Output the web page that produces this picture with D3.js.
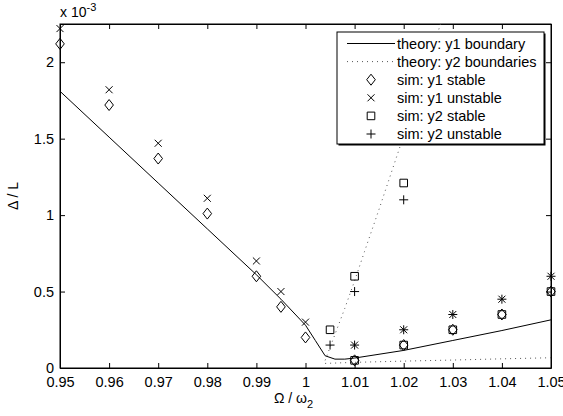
<!DOCTYPE html>
<meta charset="utf-8">
<script src="https://d3js.org/d3.v7.min.js"></script>
<style>
  body { margin: 0; background: #fff; }
  text { font-family: 'Liberation Sans', Arial, sans-serif; fill: #000; }
  .tick text { font-size: 14.5px; }
  text.legend { font-size: 14.5px; }
</style>
<div id="my_dataviz"></div>
<script>

// ---- data (values of Delta/L in units of 1e-3) ----
var xTicks = [0.95, 0.96, 0.97, 0.98, 0.99, 1.0, 1.01, 1.02, 1.03, 1.04, 1.05];
var yTicks = [0, 0.5, 1, 1.5, 2];

// theory: y1 boundary (solid)
var thY1x = [0.95, 0.96, 0.97, 0.98, 0.99, 0.995, 1.0, 1.002, 1.004, 1.006, 1.008, 1.01, 1.02, 1.03, 1.04, 1.05];
var thY1y = [1.81, 1.51, 1.21, 0.91, 0.61, 0.45, 0.28, 0.18, 0.08, 0.058, 0.058, 0.065, 0.115, 0.18, 0.245, 0.315];

// theory: y2 boundaries (dotted), two branches
var thY2lowX = [1.004, 1.01, 1.02, 1.03, 1.04, 1.05];
var thY2lowY = [0.03, 0.037, 0.045, 0.052, 0.06, 0.067];
var thY2upX = [1.004, 1.006, 1.008, 1.01, 1.012, 1.015, 1.02, 1.025, 1.03];
var thY2upY = [0.05, 0.22, 0.39, 0.57, 0.76, 1.04, 1.52, 2.0, 2.5];

// simulations
var simY1x = [0.95, 0.96, 0.97, 0.98, 0.99, 0.995, 1.0, 1.01, 1.02, 1.03, 1.04, 1.05];
var y1Stable = [2.12, 1.72, 1.37, 1.01, 0.60, 0.40, 0.20, 0.05, 0.15, 0.25, 0.35, 0.50];
var y1Unstable = [2.22, 1.82, 1.47, 1.11, 0.70, 0.50, 0.30, 0.15, 0.25, 0.35, 0.45, 0.60];

var simY2x = [1.005, 1.01, 1.02, 1.01, 1.02, 1.03, 1.04, 1.05];
var y2Stable = [0.25, 0.60, 1.21, 0.05, 0.15, 0.25, 0.35, 0.50];
var y2Unstable = [0.15, 0.50, 1.10, 0.15, 0.25, 0.35, 0.45, 0.60];

var legendLabels = ["theory: y1 boundary", "theory: y2 boundaries", "sim: y1 stable",
                    "sim: y1 unstable", "sim: y2 stable", "sim: y2 unstable"];

// ---- layout ----
var margin = {top: 24, right: 12, bottom: 48, left: 60},
    width = 563 - margin.left - margin.right,
    height = 416 - margin.top - margin.bottom;

var svg = d3.select("#my_dataviz")
  .append("svg")
    .attr("width", 563)
    .attr("height", 416)
  .append("g")
    .attr("transform", "translate(" + margin.left + "," + margin.top + ")");

var x = d3.scaleLinear().domain([0.95, 1.05]).range([0, width]);
var y = d3.scaleLinear().domain([0, 2.25]).range([height, 0]);

svg.append("clipPath").attr("id", "clip")
  .append("rect").attr("width", width).attr("height", height);

// axes (MATLAB style: ticks inside, box on all sides)
var fmtX = function(d) { return d3.format("")(+d.toFixed(2)); };
svg.append("g")
  .attr("transform", "translate(0," + height + ")")
  .call(d3.axisBottom(x).tickValues(xTicks).tickSizeInner(-5).tickSizeOuter(0).tickPadding(9).tickFormat(fmtX));
svg.append("g")
  .call(d3.axisTop(x).tickValues(xTicks).tickSizeInner(-5).tickSizeOuter(0).tickFormat(""));
svg.append("g")
  .call(d3.axisLeft(y).tickValues(yTicks).tickSizeInner(-5).tickSizeOuter(0).tickPadding(6).tickFormat(d3.format("")));
svg.append("g")
  .attr("transform", "translate(" + width + ",0)")
  .call(d3.axisRight(y).tickValues(yTicks).tickSizeInner(-5).tickSizeOuter(0).tickFormat(""));
svg.selectAll(".domain").attr("stroke", "#000");
svg.selectAll(".tick line").attr("stroke", "#000");

svg.append("rect")
  .attr("width", width).attr("height", height)
  .attr("fill", "none").attr("stroke", "#000").attr("stroke-width", 1);

// theory lines
var line = d3.line().x(function(d) { return x(d[0]); }).y(function(d) { return y(d[1]); });
var plot = svg.append("g").attr("clip-path", "url(#clip)");

plot.append("path")
  .datum(d3.zip(thY1x, thY1y))
  .attr("fill", "none").attr("stroke", "#000").attr("stroke-width", 1)
  .attr("d", line);
[[thY2lowX, thY2lowY], [thY2upX, thY2upY]].forEach(function(b) {
  plot.append("path")
    .datum(d3.zip(b[0], b[1]))
    .attr("fill", "none").attr("stroke", "#555").attr("stroke-width", 1)
    .attr("stroke-dasharray", "1,4")
    .attr("d", line);
});

// marker shapes
function marker(type, cx, cy) {
  if (type == "diamond") return "M" + cx + "," + (cy - 5.5) + "L" + (cx + 4.3) + "," + cy + "L" + cx + "," + (cy + 5.5) + "L" + (cx - 4.3) + "," + cy + "Z";
  if (type == "x") return "M" + (cx - 3.5) + "," + (cy - 3.5) + "L" + (cx + 3.5) + "," + (cy + 3.5) + "M" + (cx - 3.5) + "," + (cy + 3.5) + "L" + (cx + 3.5) + "," + (cy - 3.5);
  if (type == "square") return "M" + (cx - 3.8) + "," + (cy - 3.8) + "h7.6v7.6h-7.6Z";
  if (type == "plus") return "M" + (cx - 4.5) + "," + cy + "h9M" + cx + "," + (cy - 4.5) + "v9";
}
function drawSim(xs, ys, type) {
  svg.append("g").selectAll("path")
    .data(d3.zip(xs, ys))
    .enter().append("path")
      .attr("d", function(d) { return marker(type, x(d[0]), y(d[1])); })
      .attr("fill", "none").attr("stroke", "#000").attr("stroke-width", 1);
}
drawSim(simY1x, y1Stable, "diamond");
drawSim(simY1x, y1Unstable, "x");
drawSim(simY2x, y2Stable, "square");
drawSim(simY2x, y2Unstable, "plus");

// legend
var lg = svg.append("g").attr("transform", "translate(277,8)");
var lw = 207, lh = 112;
lg.append("rect").attr("x", 1.5).attr("y", 1.5).attr("width", lw).attr("height", lh).attr("fill", "#000");
lg.append("rect").attr("width", lw).attr("height", lh).attr("fill", "#fff").attr("stroke", "#000");
var types = ["solid", "dotted", "diamond", "x", "square", "plus"];
types.forEach(function(t, i) {
  var yy = 11.5 + i * 18.1;
  if (t == "solid" || t == "dotted") {
    lg.append("line").attr("x1", 10).attr("x2", 58).attr("y1", yy).attr("y2", yy)
      .attr("stroke", t == "solid" ? "#000" : "#555")
      .attr("stroke-dasharray", t == "dotted" ? "1,4" : null);
  } else {
    lg.append("path").attr("d", marker(t, 34, yy)).attr("fill", "none").attr("stroke", "#000");
  }
  lg.append("text").attr("class", "legend").attr("x", 60).attr("y", yy + 5).text(legendLabels[i]);
});

// labels
svg.append("text")
  .attr("x", width / 2 - 12).attr("y", height + 35)
  .attr("text-anchor", "middle").style("font-size", "14px")
  .html("\u03a9 / \u03c9<tspan dy='5' font-size='11px'>2</tspan>");
svg.append("text")
  .attr("transform", "translate(-42," + (height / 2) + ") rotate(-90)")
  .attr("text-anchor", "middle").style("font-size", "14px")
  .text("\u0394 / L");
svg.append("text")
  .attr("x", 0).attr("y", -7).style("font-size", "14px")
  .html("x 10<tspan dy='-6' font-size='11px'>-3</tspan>");

</script>
